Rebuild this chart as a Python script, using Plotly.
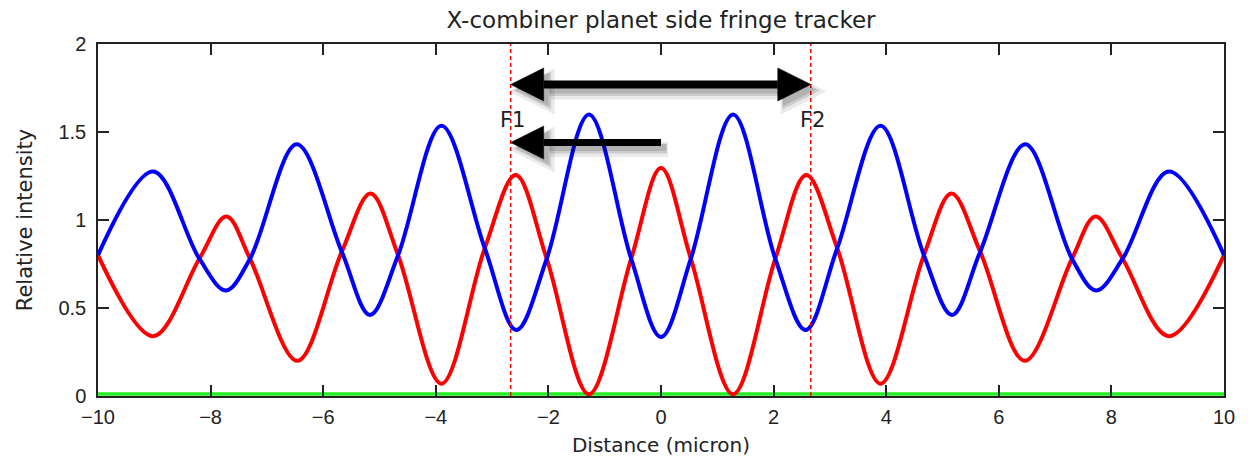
import plotly.graph_objects as go

# ---- data ----
red_x = [-10, -9.02, -8.2, -7.72, -7.3, -6.46, -5.67, -5.16, -4.67, -3.9, -3.13, -2.58, -2.03, -1.28, -0.53, 0,
         0.53, 1.28, 2.03, 2.58, 3.13, 3.9, 4.67, 5.16, 5.67, 6.46, 7.3, 7.72, 8.2, 9.02, 10]
red_y = [0.80, 0.34, 0.78, 1.02, 0.78, 0.20, 0.82, 1.15, 0.80, 0.07, 0.84, 1.255, 0.78, 0.01, 0.78, 1.295,
         0.78, 0.01, 0.78, 1.255, 0.84, 0.07, 0.80, 1.15, 0.82, 0.20, 0.78, 1.02, 0.78, 0.34, 0.80]

blue_x = [-10, -9.02, -8.2, -7.73, -7.3, -6.47, -5.67, -5.17, -4.67, -3.9, -3.13, -2.57, -2.03, -1.28, -0.53, 0,
          0.53, 1.28, 2.03, 2.57, 3.13, 3.9, 4.67, 5.17, 5.67, 6.47, 7.3, 7.73, 8.2, 9.02, 10]
blue_y = [0.80, 1.275, 0.78, 0.60, 0.78, 1.43, 0.82, 0.46, 0.80, 1.535, 0.84, 0.375, 0.78, 1.60, 0.78, 0.335,
          0.78, 1.60, 0.78, 0.375, 0.84, 1.535, 0.80, 0.46, 0.82, 1.43, 0.78, 0.60, 0.78, 1.275, 0.80]

green_x = [-10, 10]
green_y = [0.012, 0.012]

fringe_x = [-2.67, 2.66]          # F1, F2 positions
fringe_labels = ["F1", "F2"]

x_ticks = [-10, -8, -6, -4, -2, 0, 2, 4, 6, 8, 10]
y_ticks = [0, 0.5, 1, 1.5, 2]

# arrows: (x_start, x_end, y, double_headed)
arrows = [(-2.67, 2.66, 1.77, True), (0.0, -2.67, 1.44, False)]

FONT = "DejaVu Sans, sans-serif"
TICKFONT = "Liberation Sans, Arial, sans-serif"
TXT = "#222222"

fig = go.Figure()
fig.add_trace(go.Scatter(x=green_x, y=green_y, mode="lines",
                         line=dict(color="#22ee22", width=3.5), showlegend=False))
fig.add_trace(go.Scatter(x=red_x, y=red_y, mode="lines", line_shape="spline",
                         line=dict(color="#ff0000", width=4), showlegend=False))
fig.add_trace(go.Scatter(x=blue_x, y=blue_y, mode="lines", line_shape="spline",
                         line=dict(color="#0000ff", width=4), showlegend=False))

shapes = []
for fx in fringe_x:
    shapes.append(dict(type="line", xref="x", yref="paper", x0=fx, x1=fx, y0=0, y1=1,
                       line=dict(color="#ff0000", width=1.5, dash="4px,3px"), layer="above"))

# px -> data conversions
px_x = 20 / 1126.0
px_y = 2 / 352.0
head_len = 33 * px_x
head_half = 16.5 * px_y


def arrow_shapes(xs, xe, y, double, dx=0.0, dy=0.0, color="black", width=8, opacity=1.0, extra=0):
    out = []
    d = 1 if xe > xs else -1
    x0 = xs + (d * head_len if double else 0)
    x1 = xe - d * head_len
    out.append(dict(type="line", xref="x", yref="y", x0=x0 + dx, x1=x1 + dx, y0=y + dy, y1=y + dy,
                    line=dict(color=color, width=width + extra), opacity=opacity, layer="above"))
    heads = [(xe, x1)]
    if double:
        heads.append((xs, x0))
    for tip, base in heads:
        path = (f"M {tip+dx},{y+dy} L {base+dx},{y+dy+head_half} L {base+dx},{y+dy-head_half} Z")
        out.append(dict(type="path", xref="x", yref="y", path=path, fillcolor=color,
                        line=dict(color=color, width=extra if extra else 0.5), opacity=opacity, layer="above"))
    return out


for xs, xe, y, dbl in arrows:
    w = 8 if dbl else 7
    # blurred shadow
    shapes += arrow_shapes(xs, xe, y, dbl, dx=7 * px_x, dy=-7 * px_y, color="black", width=w, opacity=0.08, extra=8)
    shapes += arrow_shapes(xs, xe, y, dbl, dx=6 * px_x, dy=-6 * px_y, color="black", width=w, opacity=0.12, extra=3)
    shapes += arrow_shapes(xs, xe, y, dbl, dx=5 * px_x, dy=-5 * px_y, color="black", width=w, opacity=0.12, extra=0)
    shapes += arrow_shapes(xs, xe, y, dbl, color="black", width=w)

annotations = []
for fx, lab in zip(fringe_x, fringe_labels):
    annotations.append(dict(x=fx, y=1.57, xref="x", yref="y", text=lab, showarrow=False,
                            xshift=2, font=dict(family=FONT, size=21, color=TXT)))

fig.update_layout(
    width=1240, height=451,
    margin=dict(l=90, r=24, t=36, b=63),
    paper_bgcolor="white", plot_bgcolor="white",
    title=dict(text="X-combiner planet side fringe tracker", xref="paper", x=0.5, xanchor="center",
               yref="container", y=1 - 12 / 451, yanchor="middle", font=dict(family=FONT, size=23, color=TXT)),
    xaxis=dict(range=[-10, 10], tickvals=x_ticks, ticktext=[str(v).replace("-", "\u2212") for v in x_ticks],
               showgrid=False, zeroline=False, showline=True, linecolor="#222", linewidth=1.5,
               mirror="ticks", ticks="inside", ticklen=11, tickwidth=1.5, tickcolor="#222",
               tickfont=dict(family=TICKFONT, size=20, color=TXT), ticklabelstandoff=2, automargin=False,
               title=dict(text="Distance (micron)", font=dict(family=FONT, size=20, color=TXT), standoff=11)),
    yaxis=dict(range=[0, 2], tickvals=y_ticks, ticktext=["0", "0.5", "1", "1.5", "2"],
               showgrid=False, zeroline=False, showline=True, linecolor="#222", linewidth=1.5,
               mirror="ticks", ticks="inside", ticklen=11, tickwidth=1.5, tickcolor="#222",
               tickfont=dict(family=TICKFONT, size=20, color=TXT), ticklabelstandoff=6,
               title=dict(text="Relative intensity", font=dict(family=FONT, size=21, color=TXT), standoff=20)),
    shapes=shapes,
    annotations=annotations,
)

fig.write_html("out.html")
